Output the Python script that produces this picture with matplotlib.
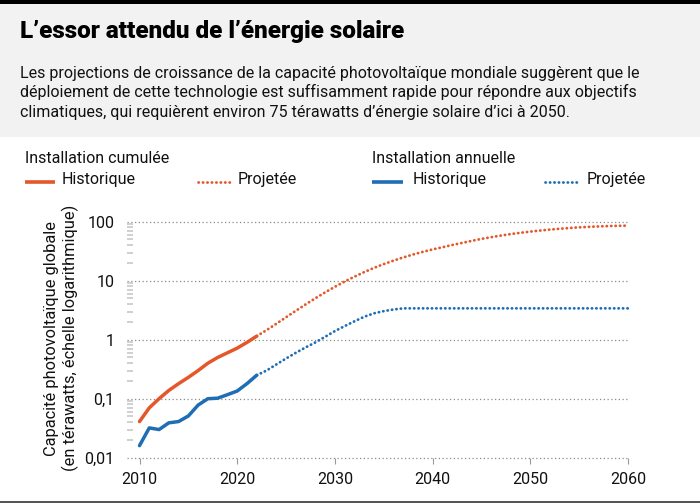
import matplotlib
matplotlib.use('Agg')
import matplotlib.pyplot as plt
from matplotlib import font_manager
from matplotlib.lines import Line2D
from matplotlib.patches import Rectangle
from matplotlib.ticker import FixedLocator, NullFormatter

# ---------------- données (TW) ----------------
annees_hist = list(range(2010, 2023))
cumul_hist = [0.041, 0.07, 0.10, 0.138, 0.18, 0.23, 0.30, 0.40, 0.50, 0.60, 0.72, 0.90, 1.15]
annuel_hist = [0.016, 0.032, 0.030, 0.039, 0.041, 0.051, 0.078, 0.100, 0.102, 0.117, 0.135, 0.18, 0.25]

annees_proj = list(range(2022, 2061))
cumul_proj = [1.15, 1.45, 1.86, 2.40, 3.09, 3.96, 5.04, 6.34, 7.89, 9.68,
              11.7, 14.0, 16.5, 19.1, 21.9, 24.8, 27.8, 30.8, 33.9, 36.9,
              40.3, 43.6, 47.3, 51.1, 54.7, 58.2, 61.7, 64.9, 67.9, 70.8,
              73.5, 75.9, 78.2, 80.2, 81.8, 83.2, 84.3, 85.1, 85.7]
annuel_proj = [0.25, 0.30, 0.38, 0.48, 0.60, 0.74, 0.90, 1.12, 1.40, 1.70,
               2.05, 2.45, 2.80, 3.05, 3.25, 3.40, 3.40, 3.40, 3.40, 3.40,
               3.40, 3.40, 3.40, 3.40, 3.40, 3.40, 3.40, 3.40, 3.40, 3.40,
               3.40, 3.40, 3.40, 3.40, 3.40, 3.40, 3.40, 3.40, 3.40]

y_ticks = [0.01, 0.1, 1, 10, 100]
y_labels = ['0,01', '0,1', '1', '10', '100']
x_ticks = [2010, 2020, 2030, 2040, 2050, 2060]

ORANGE = '#e4572a'
BLEU = '#1f6db5'
TEXTE = '#111111'

dispo = {f.name for f in font_manager.fontManager.ttflist}
police = 'Roboto' if 'Roboto' in dispo else 'DejaVu Sans'
plt.rcParams['font.family'] = [police, 'DejaVu Sans']

W, H = 700, 503
fig = plt.figure(figsize=(W / 100, H / 100), dpi=100)


def fx(x):
    return x / W


def fy(y):
    return 1 - y / H


# bandeau d'en-tête
fig.add_artist(Rectangle((0, fy(137)), 1, (137 - 4) / H, transform=fig.transFigure,
                         facecolor='#f2f2f2', edgecolor='none', zorder=0))
fig.add_artist(Rectangle((0, fy(4)), 1, 4 / H, transform=fig.transFigure,
                         facecolor='black', edgecolor='none', zorder=0))
fig.add_artist(Rectangle((0, 0), 1, 2 / H, transform=fig.transFigure,
                         facecolor='#555555', edgecolor='none', zorder=0))

fig.text(fx(20), fy(38), 'L’essor attendu de l’énergie solaire',
         fontsize=17.5, fontweight='black', color='black', va='baseline', ha='left')
sous_titre = ['Les projections de croissance de la capacité photovoltaïque mondiale suggèrent que le',
              'déploiement de cette technologie est suffisamment rapide pour répondre aux objectifs',
              'climatiques, qui requièrent environ 75 térawatts d’énergie solaire d’ici à 2050.']
for i, ligne in enumerate(sous_titre):
    fig.text(fx(20), fy(77.7 + 19.8 * i), ligne, fontsize=11.5, color=TEXTE, va='baseline', ha='left')

# légende
fig.text(fx(25), fy(163.3), 'Installation cumulée', fontsize=11.5, color=TEXTE, va='baseline')
fig.text(fx(372), fy(163.3), 'Installation annuelle', fontsize=11.5, color=TEXTE, va='baseline')
items = [(25, 55, ORANGE, '-', 62, 'Historique'),
         (198, 230, ORANGE, ':', 238, 'Projetée'),
         (372, 403, BLEU, '-', 413, 'Historique'),
         (545, 577, BLEU, ':', 587, 'Projetée')]
for x0, x1, c, ls, xt, lab in items:
    if ls == '-':
        fig.add_artist(Line2D([fx(x0), fx(x1)], [fy(182.3), fy(182.3)], transform=fig.transFigure,
                              color=c, lw=2.6, solid_capstyle='butt'))
    else:
        fig.add_artist(Line2D([fx(x0), fx(x1)], [fy(182.3), fy(182.3)], transform=fig.transFigure,
                              color=c, lw=2.0, linestyle=(0, (0.1, 1.5)), dash_capstyle='round'))
    fig.text(fx(xt), fy(184.3), lab, fontsize=11.5, color=TEXTE, va='baseline')

# graphique
ax = fig.add_axes([fx(127), fy(457.7), (628 - 127) / W, (457.7 - 221.7) / H])
ax.set_yscale('log')
ax.set_xlim(2008.72, 2060)
ax.set_ylim(0.01, 100)

ax.plot(annees_hist, cumul_hist, color=ORANGE, lw=2.5, solid_capstyle='round', solid_joinstyle='round', zorder=3)
ax.plot(annees_hist, annuel_hist, color=BLEU, lw=2.5, solid_capstyle='round', solid_joinstyle='round', zorder=3)
ax.plot(annees_proj, cumul_proj, color=ORANGE, lw=2.0, linestyle=(0, (0.1, 1.5)),
        dash_capstyle='round', zorder=3, clip_on=False)
ax.plot(annees_proj, annuel_proj, color=BLEU, lw=2.0, linestyle=(0, (0.1, 1.5)),
        dash_capstyle='round', zorder=3, clip_on=False)

for v in y_ticks:
    ax.axhline(v, color='#8c8c8c', lw=0.9, linestyle=(0, (1, 2)), zorder=1, clip_on=False)

for s in ax.spines.values():
    s.set_visible(False)

ax.yaxis.set_major_locator(FixedLocator(y_ticks))
ax.set_yticklabels(y_labels)
ax.yaxis.set_minor_locator(FixedLocator([m * 10.0 ** e for e in range(-2, 2) for m in range(2, 10)]))
ax.yaxis.set_minor_formatter(NullFormatter())
ax.tick_params(axis='y', which='major', length=0, pad=9, labelsize=11.5, labelcolor=TEXTE)
ax.tick_params(axis='y', which='minor', direction='in', length=4, width=1.2, color='#c8c8c8')

ax.set_xticks(x_ticks)
ax.tick_params(axis='x', which='major', length=4, width=0.8, color='#999999', pad=6,
               labelsize=11.5, labelcolor=TEXTE)

fig.text(fx(52), fy(338), 'Capacité photovoltaïque globale', rotation=90, fontsize=11.8,
         color=TEXTE, ha='center', va='center')
fig.text(fx(70), fy(338), '(en térawatts, échelle logarithmique)', rotation=90, fontsize=11.8,
         color=TEXTE, ha='center', va='center')

fig.savefig('out.png', dpi=100)
